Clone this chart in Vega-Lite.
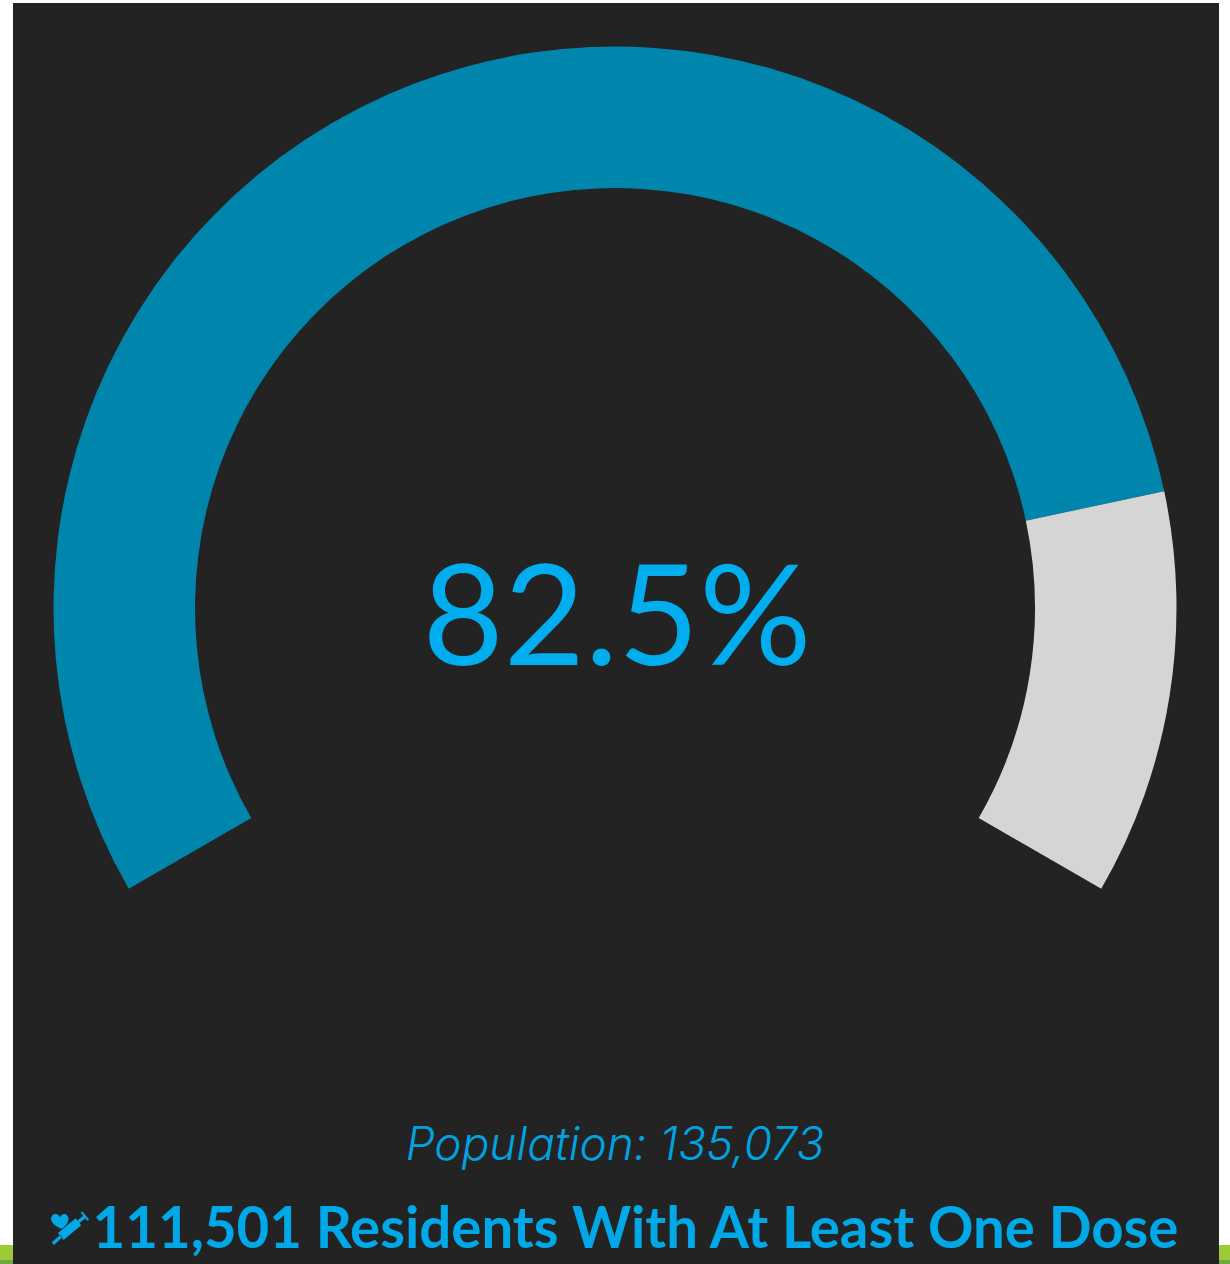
{
"$schema":"https://vega.github.io/schema/vega-lite/v6.json",
"width":1230,"height":1264,"padding":0,"autosize":{"type":"none"},"background":"#ffffff",
"config":{"view":{"stroke":null}},
"datasets":{"gauge":[{"segment":"With at least one dose","start":0,"end":82.5},{"segment":"Remaining","start":82.5,"end":100}],"blank":[{"label":"frame"}]},
"layer":[
{"data":{"name":"blank"},"mark":{"type":"rect","color":"#9BCB36"},"encoding":{"x":{"datum":0,"type":"quantitative","scale":{"domain":[0,1230],"nice":false,"zero":false},"axis":null},"x2":{"datum":1230},"y":{"datum":1245,"type":"quantitative","scale":{"domain":[0,1264],"range":[0,1264],"nice":false,"zero":false},"axis":null},"y2":{"datum":1264}}},
{"data":{"name":"blank"},"mark":{"type":"rect","color":"#6FA83F"},"encoding":{"x":{"datum":0,"type":"quantitative"},"x2":{"datum":1230},"y":{"datum":1260,"type":"quantitative"},"y2":{"datum":1264}}},
{"data":{"name":"blank"},"mark":{"type":"rect","color":"#232323"},"encoding":{"x":{"datum":13,"type":"quantitative"},"x2":{"datum":1219},"y":{"datum":3,"type":"quantitative"},"y2":{"datum":1264}}},
{"data":{"name":"gauge"},"mark":{"type":"arc","radius":561.5,"radius2":420},"encoding":{
"x":{"datum":615,"type":"quantitative"},"y":{"datum":608,"type":"quantitative"},
"theta":{"field":"start","type":"quantitative","scale":{"domain":[0,100],"range":[-2.0944,2.0944]},"stack":false},"theta2":{"field":"end"},
"color":{"field":"segment","type":"nominal","legend":null,"scale":{"domain":["With at least one dose","Remaining"],"range":["#0086AD","#D5D5D5"]}}}},
{"data":{"values":[{"t":"82.5%"}]},"mark":{"type":"text","font":"Lato","fontWeight":400,"fontSize":140,"color":"#00AEEF","align":"center","baseline":"alphabetic"},"encoding":{"text":{"field":"t"},"x":{"datum":617,"type":"quantitative"},"y":{"datum":665,"type":"quantitative"}}},
{"data":{"values":[{"t":"Population: 135,073"}]},"mark":{"type":"text","font":"Inter","fontStyle":"italic","fontWeight":300,"fontSize":46,"color":"#00A3E0","align":"center","baseline":"alphabetic"},"encoding":{"text":{"field":"t"},"x":{"datum":615,"type":"quantitative"},"y":{"datum":1160,"type":"quantitative"}}},
{"data":{"values":[{"t":"111,501 Residents With At Least One Dose"}]},"mark":{"type":"text","font":"Lato","fontWeight":700,"fontSize":56.4,"color":"#00A8E8","align":"center","baseline":"alphabetic"},"encoding":{"text":{"field":"t"},"x":{"datum":635.5,"type":"quantitative"},"y":{"datum":1248,"type":"quantitative"}}},
{"data":{"name":"blank"},"mark":{"type":"point","filled":true,"color":"#00A8E8","opacity":1,"size":1089,"shape":"M-0.5 -0.65C-0.7 -1 -1.1 -0.85 -1.05 -0.5C-1 -0.25 -0.7 -0.1 -0.45 0.05C-0.2 -0.1 0 -0.3 0 -0.55C0 -0.85 -0.35 -1 -0.5 -0.65ZM-0.64 0.31L-0.3 0.73L0.77 -0.17L0.43 -0.59ZM0.536 -0.456L0.664 -0.304L1.06 -0.62L0.94 -0.78ZM0.74 -0.93L1.16 -0.43L1.25 -0.51L0.83 -1.01ZM-0.5 0.42L-0.38 0.58L-0.88 1.03L-1.02 0.87Z"},"encoding":{"x":{"datum":68.5,"type":"quantitative"},"y":{"datum":1228,"type":"quantitative"}}}
]
}
